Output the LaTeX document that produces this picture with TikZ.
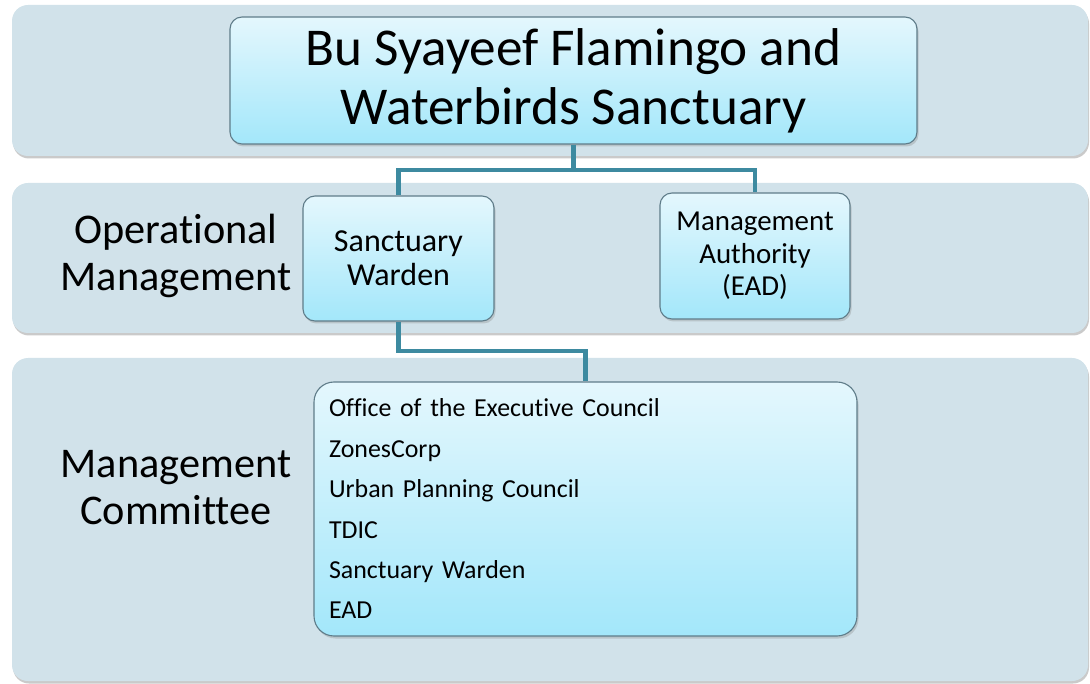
\documentclass[tikz,border=0pt]{standalone}
\usepackage{fontspec}
\setmainfont{Carlito}[Ligatures=NoCommon]
\usetikzlibrary{shadows}
\definecolor{bandfill}{HTML}{D1E2EA}
\definecolor{boxtop}{HTML}{E4F7FD}
\definecolor{boxbot}{HTML}{A3E7FA}
\definecolor{boxedge}{HTML}{5F7C89}
\definecolor{linkcol}{HTML}{3D8AA0}
\tikzset{
  band/.style={fill=bandfill, draw=none, rounded corners=16pt,
    drop shadow={shadow xshift=1pt, shadow yshift=-2.5pt, opacity=0.35, fill=black!60}},
  unitbox/.style={draw=boxedge, line width=1.1pt, rounded corners=12pt,
    top color=boxtop, bottom color=boxbot, align=center, inner sep=0pt,
    drop shadow={shadow xshift=1.5pt, shadow yshift=-2.5pt, opacity=0.3}},
  tierlabel/.style={align=center, font=\fontsize{42.3}{47}\selectfont},
  link/.style={draw=linkcol, line width=4.6pt}
}
\begin{document}
\begin{tikzpicture}[x=1pt, y=-1pt]
\useasboundingbox (0,0) rectangle (1090,684);

% tier bands
\path[band] (12,5) rectangle (1088,156);
\path[band] (12,183) rectangle (1088,333);
\path[band] (12,358) rectangle (1088,681);

% tier labels
\node[tierlabel] (opl) at (176,256) {Operational\\Management};
\node[tierlabel] (mcl) at (176,488) {Management\\Committee};

% units
\node[unitbox, minimum width=687pt, minimum height=127pt,
  font=\fontsize{53.2}{59}\selectfont] (top) at (573.5,80.5)
  {Bu Syayeef Flamingo and\\Waterbirds Sanctuary};
\node[unitbox, minimum width=191pt, minimum height=125pt,
  font=\fontsize{32}{34}\selectfont] (sw) at (398.5,258.5)
  {Sanctuary\\Warden};
\node[unitbox, minimum width=190pt, minimum height=126pt,
  font=\fontsize{28.9}{32.5}\selectfont] (ma) at (755,256)
  {Management\\Authority\\(EAD)};
\node[unitbox, rounded corners=20pt, minimum width=543pt, minimum height=254pt,
  text width=513pt, align=left, inner xsep=15pt,
  font=\fontsize{25.9}{40.4}\selectfont] (com) at (585.5,509)
  {Office of the Executive Council\\ZonesCorp\\Urban Planning Council\\TDIC\\Sanctuary Warden\\EAD};

% connectors
\coordinate (j1) at (573.5,170);
\coordinate (j2) at (398.5,351);
\draw[link] (top.south) -- (j1) -| (sw.north);
\draw[link] (j1) -| (ma.north);
\draw[link] (sw.south) -- (j2) -| (com.north);
\end{tikzpicture}
\end{document}
